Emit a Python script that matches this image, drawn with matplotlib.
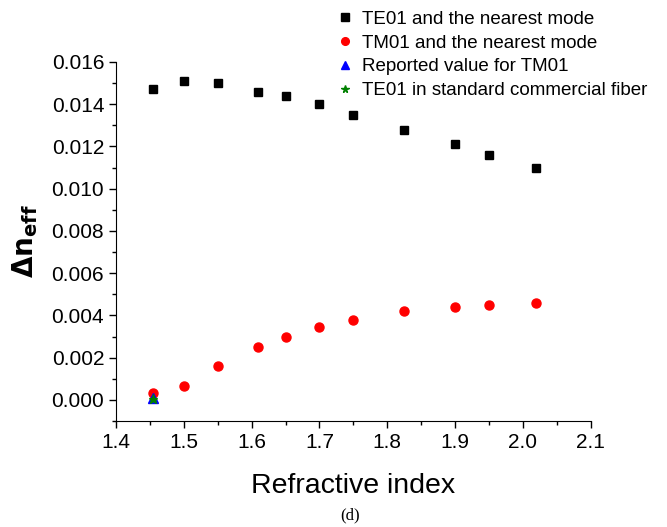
"""
Delta n_eff versus cladding refractive index, panel (d).
"""
import matplotlib
matplotlib.use("Agg")
import matplotlib.pyplot as plt
from matplotlib.ticker import MultipleLocator, FormatStrFormatter

# refractive index values and effective index differences
n_index = [1.455, 1.5, 1.55, 1.61, 1.65, 1.7, 1.75, 1.825, 1.9, 1.95, 2.02]
te01_dn = [0.0147, 0.0151, 0.0150, 0.0146, 0.0144, 0.0140, 0.0135, 0.0128, 0.0121, 0.0116, 0.0110]
tm01_dn = [0.00035, 0.00068, 0.0016, 0.0025, 0.0030, 0.00344, 0.0038, 0.0042, 0.0044, 0.0045, 0.0046]
reported_n = [1.455]
reported_dn = [0.0001]
standard_n = [1.455]
standard_dn = [0.00004]

plt.rcParams['font.family'] = ['Liberation Sans', 'DejaVu Sans']

fig = plt.figure(figsize=(6.67, 5.27), dpi=100)
ax = fig.add_axes([0.1739, 0.2011, 0.7117, 0.6813])

ax.plot(n_index, te01_dn, 's', color='black', markersize=6, label='TE01 and the nearest mode')
ax.plot(n_index, tm01_dn, 'o', color='red', markersize=6.5, label='TM01 and the nearest mode')
ax.plot(reported_n, reported_dn, '^', color='blue', markersize=6.5, label='Reported value for TM01')
ax.plot(standard_n, standard_dn, '*', color='green', markersize=6.5, label='TE01 in standard commercial fiber')

ax.set_xlim(1.4, 2.1)
ax.set_ylim(-0.001, 0.016)
ax.xaxis.set_major_locator(MultipleLocator(0.1))
ax.xaxis.set_minor_locator(MultipleLocator(0.05))
ax.yaxis.set_major_locator(MultipleLocator(0.002))
ax.yaxis.set_minor_locator(MultipleLocator(0.001))
ax.xaxis.set_major_formatter(FormatStrFormatter('%.1f'))
ax.yaxis.set_major_formatter(FormatStrFormatter('%.3f'))

for side in ['top', 'right']:
    ax.spines[side].set_visible(False)
ax.tick_params(which='major', direction='out', length=5, width=1, labelsize=15)
ax.tick_params(which='minor', direction='out', length=3, width=1)

ax.set_xlabel('Refractive index', fontsize=20.5, labelpad=15)
ax.set_ylabel(r'$\mathbf{\Delta n_{eff}}$', fontsize=20, labelpad=8)

fig.legend(loc='upper left', bbox_to_anchor=(0.503, 0.98), frameon=False,
           fontsize=13.5, handlelength=1, handletextpad=0.4, markerscale=0.85,
           borderpad=0, labelspacing=0.36, borderaxespad=0)

fig.text(0.525, 0.015, '(d)', fontsize=12, family='Liberation Serif', ha='center')

fig.savefig('out.png', dpi=100)
